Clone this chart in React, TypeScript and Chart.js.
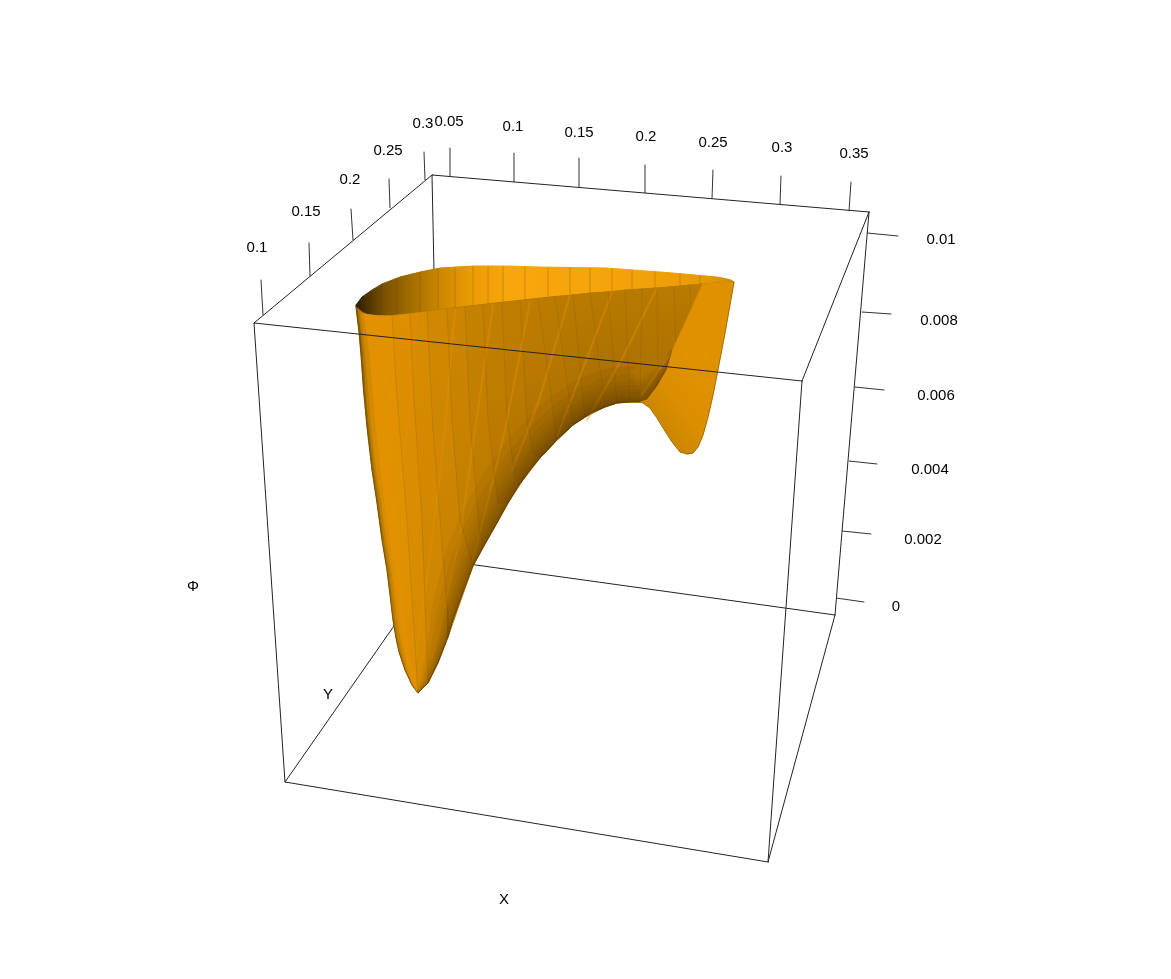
import React, { useEffect, useRef } from "react";
import { Chart, registerables } from "chart.js";

Chart.register(...registerables);

type P = [number, number];

const boxBack: P[][] = [
  [[432, 175], [440, 560]],
  [[285, 782], [440, 560]],
  [[440, 560], [835, 615]],
];
const boxFront: P[][] = [
  [[254, 323], [802, 381]],
  [[254, 323], [285, 782]],
  [[285, 782], [768, 862]],
  [[768, 862], [802, 381]],
  [[768, 862], [835, 615]],
  [[802, 381], [869, 212]],
  [[869, 212], [835, 615]],
  [[432, 175], [869, 212]],
  [[254, 323], [432, 175]],
];

const xTickLabels = ["0.05", "0.1", "0.15", "0.2", "0.25", "0.3", "0.35"];
const xTickBase: P[] = [[450, 176.5], [514, 182], [579, 187.5], [645, 193], [712, 198.5], [780, 204], [849, 211]];
const xTickTip: P[] = [[450, 148], [514, 153], [579, 158], [645, 165], [713, 170], [781, 176], [851, 182]];
const xLabelAt: P[] = [[449, 122], [513, 127], [579, 133], [646, 137], [713, 143], [782, 148], [854, 154]];

const yTickLabels = ["0.1", "0.15", "0.2", "0.25", "0.3"];
const yTickBase: P[] = [[263, 315], [310, 276], [353, 240], [390, 208], [425, 180]];
const yTickTip: P[] = [[261, 280], [309, 243], [351, 209], [389, 179], [424, 152]];
const yLabelAt: P[] = [[257, 248], [306, 212], [350, 180], [388, 151], [423, 124]];

const zTickLabels = ["0.01", "0.008", "0.006", "0.004", "0.002", "0"];
const zTickBase: P[] = [[867, 233], [862, 312], [855, 387], [849, 461], [842, 531], [836, 598]];
const zTickTip: P[] = [[898, 236], [891, 314], [884, 390], [877, 464], [871, 534], [864, 602]];
const zLabelAt: P[] = [[941, 240], [939, 321], [936, 396], [930, 470], [923, 540], [896, 607]];

const axisTitles = ["X", "Y", "Φ"];
const axisTitleAt: P[] = [[504, 900], [328, 695], [193, 587]];

const rimBack: P[] = [[356, 305], [362, 297], [372, 290], [382, 284], [400, 277], [420, 272], [440, 268], [473, 266], [507, 266], [540, 267], [607, 268], [673, 273], [717, 277], [725, 278.5], [731, 280], [734, 282]];
const rimFront: P[] = [[356, 307], [362, 312], [368, 315], [388, 316], [415, 313], [453, 308], [487, 304], [550, 297], [607, 292], [657, 288], [703, 284], [734, 282]];
const rimFacets = [368, 381, 397, 420, 438, 455, 473, 488, 503, 525, 548, 570, 590, 612, 632, 655, 680, 700];

const silhouette: P[] = [[356, 307], [359, 332], [361, 355], [363.5, 390], [367, 427], [372, 470], [377, 503], [382, 540], [387, 570], [393, 620], [396, 638], [399, 652], [405, 670], [412, 685], [418, 693]];
// Curves of the surface mesh running from the rim down to the lower edge.
const meridians: P[][] = [
  silhouette,
  [[358, 310], [361, 332], [363, 355], [365.5, 390], [369, 427], [374, 470], [379, 503], [384, 540], [389, 570], [395, 620], [398, 638], [401, 652], [406, 670], [412.5, 685], [418, 693]],
  [[360, 312], [363, 332], [365, 355], [368, 390], [371, 427], [376, 470], [381, 503], [386, 540], [391, 570], [397, 620], [400, 638], [403, 652], [407, 670], [413, 685], [418, 693]],
  [[364, 314], [367, 332], [370, 355], [373, 390], [376, 427], [381, 470], [385, 503], [390, 540], [394, 570], [400, 620], [402, 638], [405, 652], [409, 670], [414, 685], [418, 693]],
  [[378, 316], [381, 350], [387, 427], [396, 503], [402, 570], [406, 620], [411, 660], [418, 693]],
  [[392, 316], [397, 397], [407, 520], [418, 693]],
  [[410, 314], [414, 400], [422, 520], [428, 683]],
  [[427, 312], [433, 430], [447, 605], [448, 637]],
  [[447, 309], [452, 420], [460, 520], [473, 566]],
  [[465, 307], [470, 420], [480, 537], [485, 544]],
  [[483, 305], [488, 420], [498, 503], [508, 503]],
  [[502, 303], [507, 420], [515, 477], [520, 484]],
  [[520, 301], [527, 420], [533, 453], [540, 458]],
  [[538, 299], [557, 440]],
  [[555, 297], [573, 425]],
  [[573, 295], [585, 417]],
  [[590, 293], [605, 407]],
  [[608, 292], [617, 403]],
  [[625, 290], [630, 402]],
  [[642, 289], [640, 402]],
  [[657, 288], [658, 385]],
  [[674, 287], [676, 345]],
  [[690, 285], [691, 310]],
  [[703, 284], [703, 284]],
];
const stripTop = ["#8A5C00", "#B87A00", "#D08800", "#E29200", "#E29200", "#DE8F00", "#D88C00", "#D18800", "#CB8500", "#C58100", "#C28000", "#C07E00", "#BE7D00", "#BC7C00", "#BB7B00", "#BA7B00", "#B97A00", "#B87A00", "#B87A00", "#B87A00", "#B97B00", "#BA7B00", "#BB7C00"];
const stripMid = ["#A06C00", "#C08000", "#D88C00", "#E29200", "#E09100", "#DA8D00", "#D38800", "#CF8600", "#C88200", "#C27F00", "#BE7C00", "#BB7A00", "#B87800", "#B57700", "#B27500", "#B07400", "#AF7300", "#AF7300", "#B07400", "#B27500", "#B47600", "#B67800", "#B87A00"];
const stripLow = ["#B87A00", "#CC8700", "#DC8E00", "#E09000", "#DC8E00", "#D48A00", "#CC8500", "#C58100", "#BF7D00", "#BA7A00", "#B47600", "#B07400", "#AC7100", "#A96F00", "#A76E00", "#A66D00", "#A76E00", "#A86F00", "#AA7000", "#AC7100", "#AF7300", "#B27500", "#B87A00"];

const foldLine: P[] = [[640, 402], [647, 400], [657, 387], [667, 370], [673, 350], [687, 320], [703, 284]];
const lobeOutline: P[] = [[703, 284], [734, 282], [725, 333], [716, 380], [713, 395], [708, 417], [703, 435], [698, 447], [693, 453], [687, 454], [680, 452], [672, 442], [663, 428], [657, 418], [650, 408], [643, 403], [640, 402], [647, 400], [657, 387], [667, 370], [673, 350], [687, 320]];
const lowerEdge: P[] = [[418, 693], [428, 683], [438, 663], [448, 637], [453, 620], [463, 592], [473, 566], [485, 544], [497, 523], [508, 503], [520, 484], [530, 470], [540, 458], [557, 440], [573, 425], [593, 412], [605, 407], [617, 403], [630, 402], [640, 402]];
const lobeLeftEdge: P[] = [[640, 402], [643, 403], [650, 408], [657, 418], [663, 428], [672, 442], [680, 452], [687, 454]];
const rightEdge: P[] = [[734, 282], [725, 333], [716, 380], [713, 395], [708, 417], [703, 435], [698, 447], [693, 453], [687, 454]];

// Dark band along the lower edge: how far it reaches into the surface at each vertex.
const bandPath: P[] = [...lowerEdge, [647, 400], [657, 387], [667, 370], [673, 350]];
const bandReach = [0.05, 0.25, 0.4, 0.55, 0.65, 0.75, 0.85, 0.95, 1, 1, 1, 1, 1, 1, 1, 1, 1, 1, 1, 1, 0.8, 0.5, 0.25, 0.08];
const bandDepths = [1, 2, 3, 5, 7, 10, 13, 17, 22, 28, 36];

const brightStreaks: P[][] = [
  [[417, 313], [408, 427], [400, 480]],
  [[455, 310], [445, 427], [437, 500], [425, 593], [415, 660]],
  [[493, 305], [475, 430], [460, 537], [440, 627], [432, 660]],
  [[530, 302], [505, 430], [493, 480], [473, 560]],
  [[570, 295], [553, 353], [540, 397], [528, 430], [512, 470]],
  [[612, 292], [590, 350], [557, 437]],
  [[657, 288], [623, 357], [587, 420]],
  [[703, 284], [673, 350], [640, 397]],
];

const toData = (pts: P[]) => pts.map(([x, y]) => ({ x, y }));

export default function App() {
  const ref = useRef<HTMLCanvasElement | null>(null);
  useEffect(() => {
    const canvas = ref.current!;
    const ctx = canvas.getContext("2d")!;
    const layers: any[] = [];
    const line = (pts: P[], color: string, width = 1) =>
      layers.push({ data: toData(pts), showLine: true, fill: false, pointRadius: 0, borderColor: color, borderWidth: width, borderCapStyle: "round", borderJoinStyle: "round", tension: 0 });
    const shape = (pts: P[], paint: any, edge = true) =>
      layers.push({ data: toData([...pts, pts[0]]), showLine: true, fill: "shape", pointRadius: 0, backgroundColor: paint, borderColor: paint, borderWidth: edge ? 1 : 0, borderJoinStyle: "round", tension: 0 });

    boxBack.forEach((s) => line(s, "#222222"));

    // inner wall above the rim
    const rimPaint = ctx.createLinearGradient(356, 0, 734, 0);
    const rimStops: [number, string][] = [[0, "#2a1a00"], [0.03, "#4d3300"], [0.08, "#7e5400"], [0.13, "#9a6700"], [0.17, "#b07500"], [0.23, "#cf8a00"], [0.31, "#ec9c04"], [0.4, "#f7a60c"], [0.65, "#f5a40b"], [0.85, "#ee9f08"], [0.95, "#e09603"], [1, "#cf8a00"]];
    rimStops.forEach(([o, c]) => rimPaint.addColorStop(o, c));
    shape([...rimBack, ...[...rimFront].reverse()], rimPaint);
    rimFacets.forEach((x) => {
      const at = (list: P[]) => {
        for (let i = 1; i < list.length; i++) {
          if (x <= list[i][0]) {
            const t = (x - list[i - 1][0]) / (list[i][0] - list[i - 1][0]);
            return list[i - 1][1] + t * (list[i][1] - list[i - 1][1]);
          }
        }
        return list[list.length - 1][1];
      };
      line([[x, at(rimBack)], [x, at(rimFront)]], "rgba(110,70,0,0.08)");
    });

    // front face: a base, then strips of the mesh
    shape([...silhouette, ...lowerEdge, ...foldLine, ...[...rimFront].reverse()], "#B07400");
    for (let i = 0; i < meridians.length - 1; i++) {
      const a = meridians[i];
      const b = meridians[i + 1];
      const g = ctx.createLinearGradient(
        (a[0][0] + b[0][0]) / 2, (a[0][1] + b[0][1]) / 2,
        (a[a.length - 1][0] + b[b.length - 1][0]) / 2, (a[a.length - 1][1] + b[b.length - 1][1]) / 2
      );
      g.addColorStop(0, stripTop[i]);
      g.addColorStop(0.5, stripMid[i]);
      g.addColorStop(1, stripLow[i]);
      shape([...a, ...[...b].reverse()], g, i > 2);
    }

    // faint mesh lines and streaks under the shading band
    brightStreaks.forEach((s) => line(s, "rgba(228,146,0,0.4)", 2.2));
    meridians.slice(5, 23).forEach((m) => line(m, "rgba(100,65,0,0.14)"));

    // shading band along the lower edge
    const normals = bandPath.map((p, i) => {
      const a = bandPath[Math.max(0, i - 1)];
      const b = bandPath[Math.min(bandPath.length - 1, i + 1)];
      const dx = b[0] - a[0];
      const dy = b[1] - a[1];
      const len = Math.hypot(dx, dy) || 1;
      return [dy / len, -dx / len];
    });
    bandDepths.forEach((d) => {
      const inner: P[] = bandPath.map((p, i) => [p[0] + normals[i][0] * d * bandReach[i], p[1] + normals[i][1] * d * bandReach[i]]);
      layers.push({ data: toData([...bandPath, ...inner.reverse(), bandPath[0]]), showLine: true, fill: "shape", pointRadius: 0, backgroundColor: "rgba(60,35,0,0.055)", borderWidth: 0, borderColor: "rgba(0,0,0,0)", tension: 0 });
    });

    const lobe = ctx.createLinearGradient(650, 435, 712, 392);
    lobe.addColorStop(0, "#BC7D00");
    lobe.addColorStop(0.2, "#CC8700");
    lobe.addColorStop(0.55, "#DB8E00");
    lobe.addColorStop(1, "#E09100");
    shape(lobeOutline, lobe);

    line(silhouette, "rgba(90,60,0,0.55)", 1);
    line(lowerEdge, "rgba(70,45,0,0.5)", 1);
    line(lobeLeftEdge, "rgba(110,75,0,0.35)", 1);
    line(rightEdge, "rgba(110,75,0,0.5)", 1);

    boxFront.forEach((s) => line(s, "#222222"));
    [[xTickBase, xTickTip], [yTickBase, yTickTip], [zTickBase, zTickTip]].forEach(([from, to]) =>
      from.forEach((p, i) => line([p, to[i]], "#333333"))
    );

    const textPlugin = {
      id: "plotText",
      afterDatasetsDraw(chart: any) {
        const c = chart.ctx;
        const { x, y } = chart.scales;
        c.save();
        c.font = '15px "Liberation Sans"';
        c.fillStyle = "#000000";
        c.textAlign = "center";
        c.textBaseline = "middle";
        const put = (labels: string[], at: P[]) =>
          labels.forEach((t, i) => c.fillText(t, x.getPixelForValue(at[i][0]), y.getPixelForValue(at[i][1])));
        put(xTickLabels, xLabelAt);
        put(yTickLabels, yLabelAt);
        put(zTickLabels, zLabelAt);
        put(axisTitles, axisTitleAt);
        c.restore();
      },
    };

    const chart = new Chart(canvas, {
      type: "scatter",
      data: { datasets: layers.reverse() },
      options: {
        animation: false,
        responsive: false,
        layout: { padding: 0 },
        plugins: { legend: { display: false }, tooltip: { enabled: false }, title: { display: false } },
        scales: {
          x: { type: "linear", display: false, min: 0, max: 1171 },
          y: { type: "linear", display: false, min: 0, max: 979, reverse: true },
        },
      },
      plugins: [textPlugin],
    } as any);
    return () => chart.destroy();
  }, []);
  return (
    <div style={{ position: "absolute", left: 0, top: 0, width: 1171, height: 979, background: "#ffffff" }}>
      <canvas ref={ref} width={1171} height={979} style={{ display: "block" }} />
    </div>
  );
}
